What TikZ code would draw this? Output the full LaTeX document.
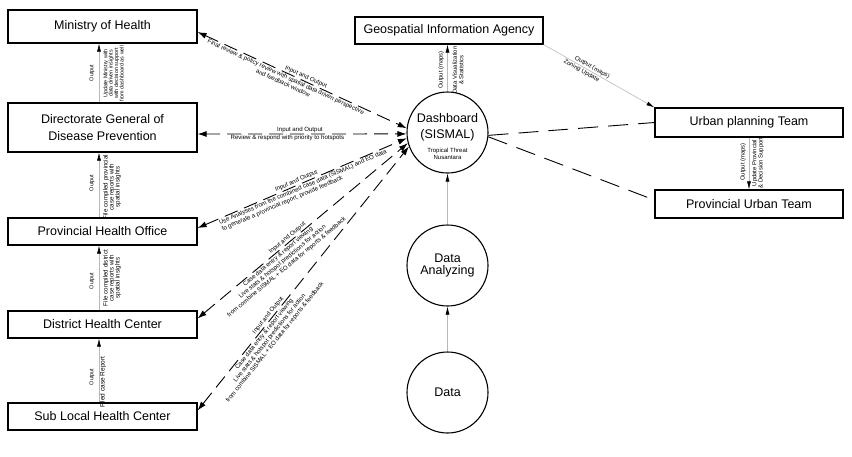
\documentclass[tikz,border=0pt]{standalone}
\usepackage{fontspec}
\setmainfont{Liberation Sans}
\usetikzlibrary{arrows.meta,calc}
\begin{document}
\begin{tikzpicture}[x=1pt,y=-1pt,
  box/.style={draw,line width=1.2pt,inner sep=0pt,minimum width=189pt,align=center,font=\fontsize{12.5}{17}\selectfont},
  circ/.style={draw,circle,line width=1.1pt,minimum size=81pt,inner sep=0pt,align=center,font=\fontsize{12.5}{12}\selectfont},
  dl/.style={line width=0.9pt,dash pattern=on 14pt off 7pt,{Latex[length=9pt,width=6pt]}-{Latex[length=9pt,width=6pt]}},
  dr/.style={line width=0.9pt,dash pattern=on 20pt off 10pt},
  garrow/.style={draw=gray!55,line width=0.6pt,-{Latex[length=8pt,width=4pt,color=black]}},
  lab/.style={font=\fontsize{6.1}{6.8}\selectfont,inner sep=1pt,align=center},
  olab/.style={font=\fontsize{5.5}{5.5}\selectfont,inner sep=0pt,rotate=90},
  vlab/.style={font=\fontsize{6.2}{6}\selectfont,inner sep=0pt,rotate=90,align=center},
  glab/.style={font=\fontsize{5.9}{6.3}\selectfont,inner sep=0pt,rotate=90,align=center}
]
\useasboundingbox (0,0) rectangle (852,456);

% boxes
\node[box,minimum height=33pt] (min) at (102.5,26.5) {Ministry of Health};
\node[box,minimum height=49pt] (dir) at (102.5,127.5) {Directorate General of\\Disease Prevention};
\node[box,minimum height=27pt] (pho) at (102.5,231.5) {Provincial Health Office};
\node[box,minimum height=27pt] (dhc) at (102.5,324.5) {District Health Center};
\node[box,minimum height=27pt] (slh) at (102.5,416.5) {Sub Local Health Center};
\node[box,minimum width=188pt,minimum height=27pt] (geo) at (449,30.5) {Geospatial Information Agency};
\node[box,minimum width=188pt,minimum height=29pt] (upt) at (749,122.5) {Urban planning Team};
\node[box,minimum width=188pt,minimum height=28pt] (put) at (749,204) {Provincial Urban Team};

% circles
\node[circ] (dash) at (447.5,132.5) {};
\node[font=\fontsize{12.5}{16}\selectfont,align=center,inner sep=0pt] (dtitle) at (447.5,127) {Dashboard\\(SISMAL)};
\node[font=\fontsize{6}{7}\selectfont,align=center,inner sep=0pt] (dsub) at (447.5,153.5) {Tropical Threat\\Nusantara};
\node[circ] (ana) at (447.5,265.5) {Data\\Analyzing};
\node[circ] (dat) at (447.5,392.5) {Data};

% left dashed connectors
\draw[dl] ($(min.east)+(0,5.5)$) -- (dash.174)
  node[lab,sloped,above,pos=.51] {Input and Output}
  node[lab,sloped,below,pos=.43] {Final review \& policy review with spatial data driven perspective\\and feedback window};
\draw[dl] ($(dir.east)+(0,6.5)$) -- (dash.182)
  node[lab,sloped,above,pos=.49] {Input and Output}
  node[lab,sloped,below,pos=.43] {Review \& respond with priority to hotspots};
\draw[dl] ($(pho.east)+(0,-3.5)$) -- (dash.188)
  node[lab,sloped,above,pos=.48] {Input and Output}
  node[lab,sloped,anchor=north west,align=left,pos=.09] {Use Analyses from the combined case data (SISMAL) and EO data\\to generate a provincial report, provide feedback};
\draw[dl] ($(dhc.east)+(0,-6)$) -- (dash.195)
  node[lab,sloped,above,pos=.44] {Input and Output}
  node[lab,sloped,below,pos=.37] {Case data entry \& report viewing\\Live stats \& hotspot predictions for action\\from combine SISMAL + EO data for reports \& feedback};
\draw[dl] ($(slh.east)+(0,-6)$) -- (dash.200)
  node[lab,sloped,above,pos=.35] {Input and Output}
  node[lab,sloped,below,pos=.30] {Case data entry \& report viewing\\Live stats \& hotspot predictions for action\\from combine SISMAL + EO data for reports \& feedback};

% right dashed connectors
\draw[dr] (dash.-4) -- (upt.west);
\draw[dr] (dash.-6) -- ($(put.west)+(0,-4)$);

% gray arrows
\draw[garrow] (geo.south east) -- (upt.north west)
  node[lab,sloped,above,pos=.42] {Output (maps)}
  node[lab,sloped,below,pos=.36] {Zoning Update};
\draw[garrow] (dash.north) -- (dash.north |- geo.south);
\node[glab] (g1) at (441,70) {Output (maps)};
\node[glab] (g2) at (458,70) {Data Visualization\\\& Statistics};
\draw[garrow] (upt.south) -- (put.north);
\node[glab] (u1) at (743,162) {Output (maps)};
\node[glab] (u2) at (758,163) {Update Provincial\\\& Decision Support};
\draw[garrow] (dat.north) -- (ana.south);
\draw[garrow] (ana.north) -- (dash.south);

% left vertical arrows
\coordinate (ax) at (99,0);
\draw[garrow] (dir.north -| ax) -- (min.south -| ax);
\draw[garrow] (pho.north -| ax) -- (dir.south -| ax);
\draw[garrow] (dhc.north -| ax) -- (pho.south -| ax);
\draw[garrow] (slh.north -| ax) -- (dhc.south -| ax);
\node[olab] (o1) at (92,73) {Output};
\node[vlab,font=\fontsize{5.4}{5.4}\selectfont] (t1) at (113.5,73.5) {Update Ministry with\\data driven insights\\with decision support\\from dashboard as well};
\node[olab] (o2) at (92,183) {Output};
\node[vlab] (t2) at (112,187) {File compiled provincial\\case reports with\\spatial insights};
\node[olab] (o3) at (92,281) {Output};
\node[vlab] (t3) at (112,278) {File compiled district\\case reports with\\spatial insights};
\node[olab] (o4) at (92,377) {Output};
\node[vlab,font=\fontsize{6.5}{6.5}\selectfont] (t4) at (103,382) {Filed case Report};
\end{tikzpicture}
\end{document}
